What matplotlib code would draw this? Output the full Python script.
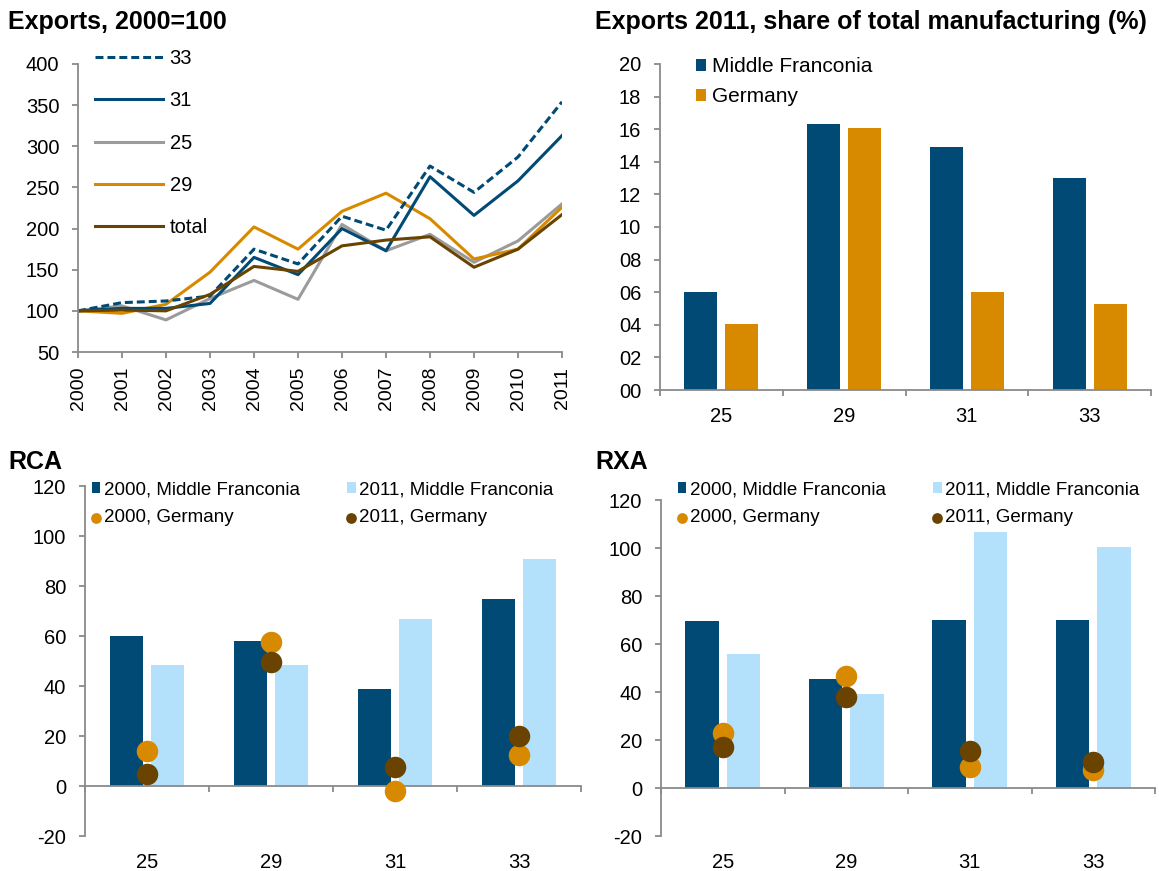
import numpy as np
import matplotlib.pyplot as plt
from matplotlib.lines import Line2D

plt.rcParams['font.family'] = ['Liberation Sans', 'DejaVu Sans']
plt.rcParams['axes.unicode_minus'] = False

''' Colours '''
navy = "#004a75"
orange = "#d78a00"
grey = "#9b9b9b"
brown = "#6a4300"
light_blue = "#b3e1fc"
axis_grey = "#8a8a8a"

tks = 14.5   # tick label size
lgs = 13.5   # legend size, lower panels

''' Data '''
years = list(range(2000, 2012))
exp_33 = [100, 110, 112, 118, 175, 157, 215, 198, 276, 244, 287, 354]
exp_31 = [100, 103, 103, 109, 165, 144, 200, 173, 263, 216, 258, 313]
exp_25 = [100, 106, 89, 115, 137, 114, 205, 173, 193, 159, 185, 230]
exp_29 = [100, 97, 108, 147, 202, 175, 221, 243, 212, 163, 175, 226]
exp_total = [100, 101, 100, 120, 154, 148, 179, 186, 190, 153, 175, 217]

sectors = ["25", "29", "31", "33"]
share_mf = [6.0, 16.3, 14.9, 13.0]
share_de = [4.05, 16.1, 6.0, 5.3]

rca_mf_2000 = [60, 58, 39, 75]
rca_mf_2011 = [48.5, 48.3, 67, 91]
rca_de_2000 = [14, 57.5, -2, 12.3]
rca_de_2011 = [5, 49.5, 7.8, 20]

rxa_mf_2000 = [69.5, 45.5, 70, 70]
rxa_mf_2011 = [56, 39.2, 106.5, 100.3]
rxa_de_2000 = [22.8, 46.5, 8.8, 7.5]
rxa_de_2011 = [17, 37.8, 15.4, 11]

W, H = 1159, 871
fig = plt.figure(figsize=(W / 100, H / 100), dpi=100)


def px_axes(x0, y0, x1, y1):
    # axes from pixel box (top-left origin)
    return fig.add_axes([x0 / W, 1 - y1 / H, (x1 - x0) / W, (y1 - y0) / H])


def style(ax):
    ax.spines[["top", "right"]].set_visible(False)
    ax.spines[["left", "bottom"]].set_color(axis_grey)
    ax.spines[["left", "bottom"]].set_linewidth(1.3)
    ax.tick_params(axis="both", which="both", direction="out", color=axis_grey,
                   width=1.3, labelsize=tks, labelcolor="black")
    ax.tick_params(axis="both", which="major", length=4.5)
    ax.tick_params(axis="y", pad=9)


''' Exports index, lines '''
ax1 = px_axes(78, 64, 562, 352)
style(ax1)
l25, = ax1.plot(years, exp_25, color=grey, lw=2.2)
l29, = ax1.plot(years, exp_29, color=orange, lw=2.2)
l31, = ax1.plot(years, exp_31, color=navy, lw=2.2)
l33, = ax1.plot(years, exp_33, color=navy, lw=2.2, dashes=(2.6, 1.3))
ltot, = ax1.plot(years, exp_total, color=brown, lw=2.2)
ax1.set_xlim(2000, 2011)
ax1.set_ylim(50, 400)
ax1.set_yticks(range(50, 401, 50))
ax1.set_xticks(years, labels=[str(y) for y in years], rotation=90)
ax1.tick_params(axis="x", labelsize=14, pad=6)
ax1.legend([l33, l31, l25, l29, ltot], ["33", "31", "25", "29", "total"],
           loc="upper left", bbox_to_anchor=(95 / W, 1 - 49 / H),
           bbox_transform=fig.transFigure, frameon=False, fontsize=tks,
           handlelength=3.4, handletextpad=0.3, labelspacing=1.16,
           borderpad=0, borderaxespad=0)

''' Export shares 2011, bars '''
pos = np.arange(len(sectors))
bw = 0.27
off = 0.167

ax2 = px_axes(660, 64, 1151, 390)
style(ax2)
ax2.bar(pos - off, share_mf, bw, color=navy, label="Middle Franconia")
ax2.bar(pos + off, share_de, bw, color=orange, label="Germany")
ax2.set_xlim(-0.5, 3.5)
ax2.set_ylim(0, 20)
ax2.set_yticks(range(0, 21, 2), labels=[f"{v:02d}" for v in range(0, 21, 2)])
ax2.set_xticks(np.arange(-0.5, 3.6, 1), labels=[])
ax2.set_xticks(pos, labels=sectors, minor=True)
ax2.tick_params(axis="x", which="minor", length=0, pad=12)
ax2.legend(loc="upper left", bbox_to_anchor=(696 / W, 1 - 57 / H),
           bbox_transform=fig.transFigure, frameon=False, fontsize=15,
           handlelength=0.5, handleheight=0.5, handletextpad=0.25,
           labelspacing=0.55, borderpad=0, borderaxespad=0)


def advantage_panel(box, mf00, mf11, de00, de11, legend_x):
    ax = px_axes(*box)
    style(ax)
    b0 = ax.bar(pos - off, mf00, bw, color=navy, zorder=2)
    b1 = ax.bar(pos + off, mf11, bw, color=light_blue, zorder=2)
    d0 = ax.scatter(pos, de00, s=240, color=orange, zorder=3, linewidths=0)
    d1 = ax.scatter(pos, de11, s=240, color=brown, zorder=4, linewidths=0)
    ax.set_xlim(-0.5, 3.5)
    ax.set_ylim(-20, 120)
    ax.set_yticks(range(-20, 121, 20))
    ax.spines["bottom"].set_position(("data", 0))
    ax.set_xticks(np.arange(-0.5, 3.6, 1), labels=[])
    for i, name in enumerate(sectors):
        ax.annotate(name, (i, 0), xycoords=("data", "axes fraction"),
                    xytext=(0, -19), textcoords="offset points",
                    ha="center", va="center", fontsize=tks)
    ax.legend([b0, d0, b1, d1],
              ["2000, Middle Franconia", "2000, Germany",
               "2011, Middle Franconia", "2011, Germany"],
              ncol=2, loc="upper left",
              bbox_to_anchor=(legend_x / W, 1 - 481 / H),
              bbox_transform=fig.transFigure, frameon=False, fontsize=lgs,
              handlelength=0.45, handleheight=0.5, handletextpad=0.2,
              labelspacing=0.6, columnspacing=2.5, markerscale=0.5,
              borderpad=0, borderaxespad=0)
    return ax


ax3 = advantage_panel((85, 486, 581, 836), rca_mf_2000, rca_mf_2011,
                      rca_de_2000, rca_de_2011, 92)
ax4 = advantage_panel((661, 500, 1155, 836), rxa_mf_2000, rxa_mf_2011,
                      rxa_de_2000, rxa_de_2011, 678)

''' Panel titles '''
title_kw = dict(fontsize=18, fontweight="bold", va="center", ha="left")
fig.text(8 / W, 1 - 22 / H, "Exports, 2000=100", **title_kw)
fig.text(595 / W, 1 - 22 / H, "Exports 2011, share of total manufacturing (%)", **title_kw)
fig.text(8 / W, 1 - 462 / H, "RCA", **title_kw)
fig.text(595 / W, 1 - 462 / H, "RXA", **title_kw)

plt.savefig("out.png", dpi=100)
